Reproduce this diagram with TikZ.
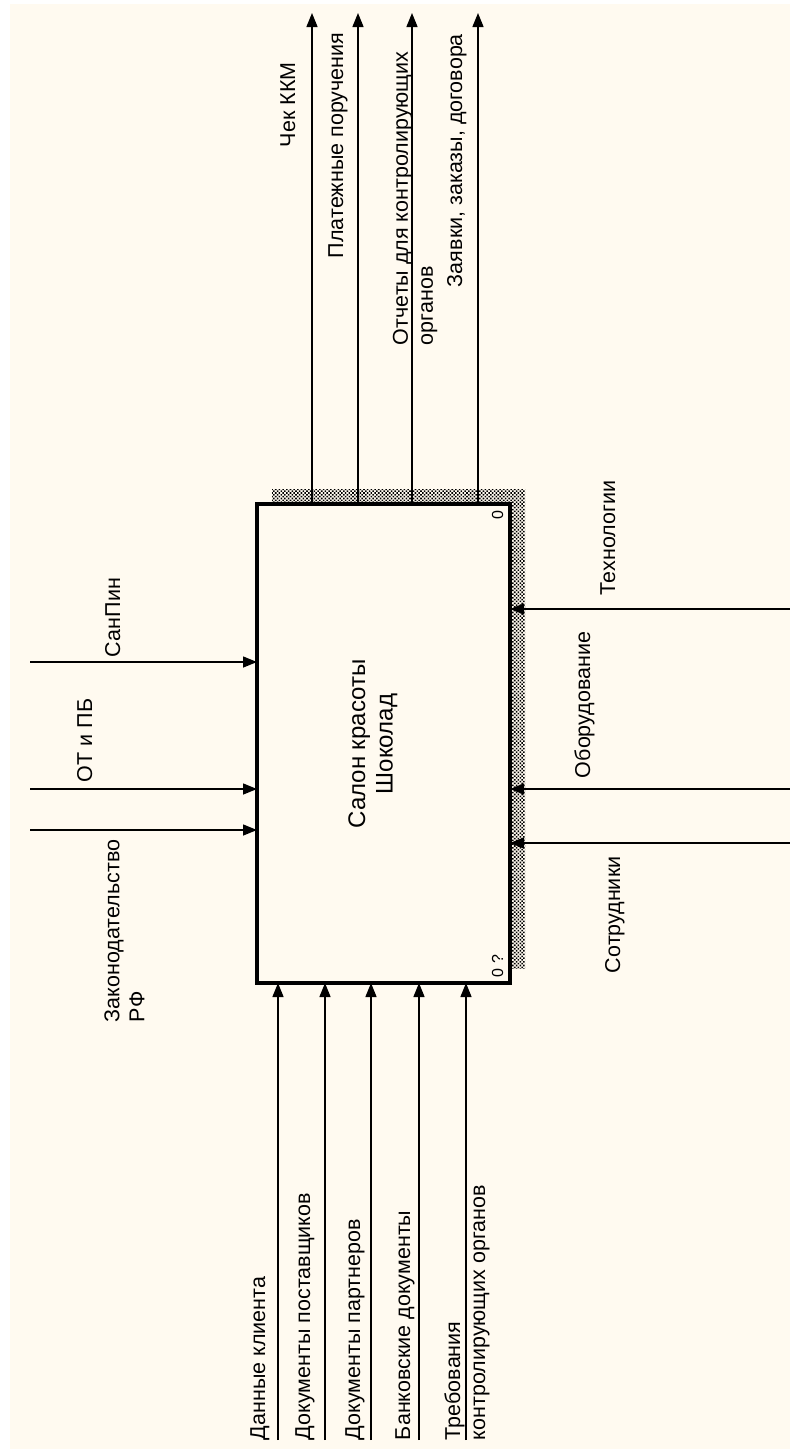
\documentclass[tikz,border=0pt]{standalone}
\usepackage{fontspec}
\setmainfont{Liberation Sans}
\usetikzlibrary{arrows.meta,positioning,calc,patterns.meta}
\definecolor{paper}{RGB}{255,250,240}

\begin{document}
\begin{tikzpicture}[
  x=1pt, y=-1pt,
  every node/.style={font=\fontsize{21.5pt}{25pt}\selectfont, inner sep=0pt, outer sep=0pt},
  func/.style={rectangle, draw, line width=3.2pt, fill=paper, minimum width=253pt, minimum height=479pt},
  lbl/.style={rotate=90, anchor=base west},
  mlbl/.style={rotate=90, anchor=west, align=left},
  corner/.style={rotate=90, font=\fontsize{16pt}{18pt}\selectfont},
  flow/.style={line width=1.4pt, -{Triangle[length=14pt,width=11pt]}},
  shadow/.style={pattern={Dots[distance=2.6pt,radius=1.1pt,angle=45]}, pattern color=black}
]
  \useasboundingbox (0,0) rectangle (790,1449);
  \fill[white] (0,0) rectangle (790,1449);
  \fill[paper] (10,4) rectangle (790,1449);

  % activity box with its shadow
  \fill[shadow] (272,489) rectangle (525,968);
  \node[func] (salon) at (383.5,743.5) {};
  \node[rotate=90, align=center, font=\fontsize{24pt}{27.5pt}\selectfont] (title) at (373,744) {Салон красоты\\Шоколад};
  \node[corner] (num) at (497.5,515) {0};
  \node[corner, anchor=base west] (ref) at (503,977) {0 ?};

  % outputs
  \coordinate (chek) at (312,13);
  \coordinate (plat) at (358,13);
  \coordinate (otch) at (412,13);
  \coordinate (zayav) at (478,13);
  \draw[flow] (salon.north -| chek) -- (chek);
  \draw[flow] (salon.north -| plat) -- (plat);
  \draw[flow] (salon.north -| otch) -- (otch);
  \draw[flow] (salon.north -| zayav) -- (zayav);
  \node[lbl] (chekl) at (295,147) {Чек ККМ};
  \node[lbl] (platl) at (343,258) {Платежные поручения};
  \node[mlbl] (otchl) at (415,345) {Отчеты для контролирующих\\органов};
  \node[lbl] (zayavl) at (462,287) {Заявки, заказы, договора};

  % controls
  \coordinate (sanpin) at (30,662);
  \coordinate (otpb) at (30,789);
  \coordinate (zakon) at (30,830);
  \draw[flow] (sanpin) -- (sanpin -| salon.west);
  \draw[flow] (otpb) -- (otpb -| salon.west);
  \draw[flow] (zakon) -- (zakon -| salon.west);
  \node[lbl] (sanpinl) at (120,657) {СанПин};
  \node[lbl] (otpbl) at (92,782) {ОТ и ПБ};
  \node[mlbl] (zakonl) at (124.5,1022) {Законодательство\\РФ};

  % mechanisms
  \coordinate (tech) at (790,609);
  \coordinate (obor) at (790,789);
  \coordinate (sotr) at (790,843);
  \draw[flow] (tech) -- (tech -| salon.east);
  \draw[flow] (obor) -- (obor -| salon.east);
  \draw[flow] (sotr) -- (sotr -| salon.east);
  \node[lbl] (techl) at (615,595) {Технологии};
  \node[lbl] (oborl) at (590,778) {Оборудование};
  \node[lbl] (sotrl) at (620,973) {Сотрудники};

  % inputs
  \coordinate (dannye) at (278,1440);
  \coordinate (dpost) at (325,1440);
  \coordinate (dpart) at (371,1440);
  \coordinate (bank) at (419,1440);
  \coordinate (treb) at (466,1440);
  \draw[flow] (dannye) -- (dannye |- salon.south);
  \draw[flow] (dpost) -- (dpost |- salon.south);
  \draw[flow] (dpart) -- (dpart |- salon.south);
  \draw[flow] (bank) -- (bank |- salon.south);
  \draw[flow] (treb) -- (treb |- salon.south);
  \node[lbl] (dannyel) at (265,1440) {Данные клиента};
  \node[lbl] (dpostl) at (310,1440) {Документы поставщиков};
  \node[lbl] (dpartl) at (360,1440) {Документы партнеров};
  \node[lbl] (bankl) at (410,1440) {Банковские документы};
  \node[mlbl] (trebl) at (467,1440) {Требования\\контролирующих органов};
\end{tikzpicture}
\end{document}
